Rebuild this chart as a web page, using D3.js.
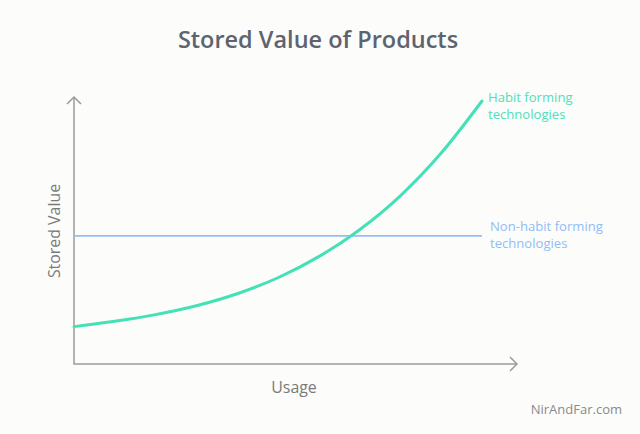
<!DOCTYPE html>
<html><head><meta charset="utf-8">
<script src="https://cdn.jsdelivr.net/npm/d3@7"></script>
<style>html,body{margin:0;padding:0;background:#fcfcfb;}svg{display:block;font-family:"Open Sans",sans-serif;}</style>
</head><body><svg id="c" width="640" height="434"></svg>
<script>
const usage = [0, 10, 20, 30, 40, 50, 60, 70, 80, 90, 100];
const habitValues = [14, 16, 18.5, 21.8, 26.3, 32.3, 40.2, 50.3, 63, 79, 98.5];
const nonHabitValue = 48;
const seriesLabels = [["Habit forming", "technologies"], ["Non-habit forming", "technologies"]];

const svg = d3.select("#c");
const x = d3.scaleLinear().domain([0, 100]).range([74, 482]);
const y = d3.scaleLinear().domain([0, 100]).range([364, 97]);

svg.append("rect").attr("width", 640).attr("height", 434).attr("fill", "#fcfcfb");

svg.append("text").attr("x", 318).attr("y", 48).attr("text-anchor", "middle")
  .attr("font-size", 23.5).attr("font-weight", 600).attr("fill", "#5e636e").text("Stored Value of Products");

const axisColor = "#9a9a9a";
const ax = svg.append("g").attr("stroke", axisColor).attr("stroke-width", 1.5).attr("fill", "none");
const x0 = x(0), y0 = y(0), xEnd = 517, yTop = 97;
ax.append("path").attr("d", `M${x0},${yTop}V${y0}H${xEnd}`);
ax.append("path").attr("d", `M${x0-7},${yTop+7}L${x0},${yTop}L${x0+7},${yTop+7}`);
ax.append("path").attr("d", `M${xEnd-7},${y0-7}L${xEnd},${y0}L${xEnd-7},${y0+7}`);

svg.append("line").attr("x1", x(0)).attr("x2", x(100)).attr("y1", y(nonHabitValue)).attr("y2", y(nonHabitValue))
  .attr("stroke", "#94bef4").attr("stroke-width", 1.8);

const line = d3.line().x((d, i) => x(usage[i])).y(d => y(d)).curve(d3.curveMonotoneX);
svg.append("path").attr("d", line(habitValues)).attr("fill", "none")
  .attr("stroke", "#44e0b6").attr("stroke-width", 3).attr("stroke-linecap", "round");

const lab1 = svg.append("text").attr("font-size", 13.1).attr("fill", "#4fe0b8");
seriesLabels[0].forEach((t, i) => lab1.append("tspan").attr("x", 488).attr("y", 102 + i * 17).text(t));
const lab2 = svg.append("text").attr("font-size", 13.1).attr("fill", "#92bdf5");
seriesLabels[1].forEach((t, i) => lab2.append("tspan").attr("x", 490).attr("y", 231 + i * 17).text(t));

svg.append("text").attr("transform", "translate(60,231) rotate(-90)").attr("text-anchor", "middle")
  .attr("font-size", 15.9).attr("fill", "#7a7a7a").text("Stored Value");
svg.append("text").attr("x", 294).attr("y", 393).attr("text-anchor", "middle")
  .attr("font-size", 15.9).attr("fill", "#7a7a7a").text("Usage");
svg.append("text").attr("x", 622).attr("y", 414).attr("text-anchor", "end")
  .attr("font-size", 13).attr("fill", "#8a8a8a").text("NirAndFar.com");
</script></body></html>
